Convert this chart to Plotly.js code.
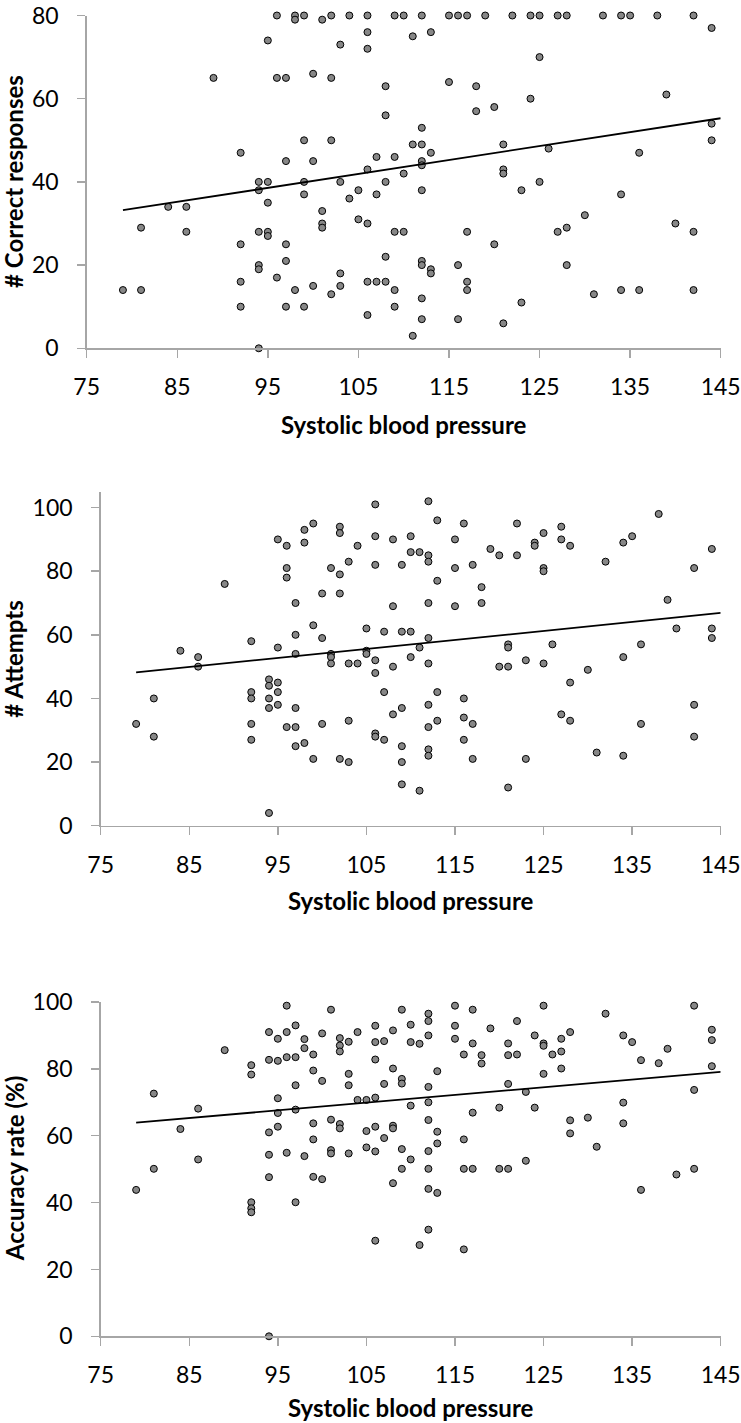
<!DOCTYPE html>
<html>
<head>
<meta charset="utf-8">
<script src="https://cdn.plot.ly/plotly-3.0.1.min.js"></script>
<style>html,body{margin:0;padding:0;background:#fff;}#chart{width:741px;height:1423px;}</style>
</head>
<body>
<div id="chart"></div>
<script>
// ---------- Data ----------
const xTickVals = [75, 85, 95, 105, 115, 125, 135, 145];
const xTitle = "Systolic blood pressure";
const yTitles = ["# Correct responses", "# Attempts", "Accuracy rate (%)"];

// Panel 1: # Correct responses
const bpCorrect = [96,98,98,99,101,102,104,106,106,106,95,103,89,96,97,100,102,99,102,92,97,100,106,94,95,94,99,99,103,95,104,105,84,86,101,105,
81,86,101,101,106,94,95,95,92,97,94,94,97,96,103,92,106,79,81,98,100,103,102,92,97,99,106,94,
109,110,112,115,116,117,119,122,124,125,127,128,132,134,135,138,142,144,111,113,125,108,115,118,118,120,124,139,108,112,144,144,111,112,121,107,109,113,126,136,112,112,110,121,121,108,125,107,112,123,134,130,
109,110,117,120,127,128,140,142,108,112,112,113,113,116,128,107,108,109,117,117,112,109,123,131,134,136,142,112,116,121,111];
const correctResponses = [80,80,79,80,79,80,80,80,76,72,74,73,65,65,65,66,65,50,50,47,45,45,43,40,40,38,40,37,40,35,36,38,34,34,33,31,
29,28,30,29,30,28,28,27,25,25,20,19,21,17,18,16,16,14,14,14,15,15,13,10,10,10,8,0,
80,80,80,80,80,80,80,80,80,80,80,80,80,80,80,80,80,77,75,76,70,63,64,63,57,58,60,61,56,53,54,50,49,49,49,46,46,47,48,47,45,44,42,43,42,40,40,37,38,38,37,32,
28,28,28,25,28,29,30,28,22,21,20,19,18,20,20,16,16,14,16,14,12,10,11,13,14,14,14,7,7,6,3];

// Panel 2: # Attempts
const bpAttempts = [84,86,86,89,92,95,95,96,96,96,97,97,97,98,98,99,99,100,100,101,101,101,101,102,102,102,102,103,103,104,104,105,105,105,
79,81,81,92,92,92,92,94,94,94,94,95,95,95,96,97,97,97,98,99,100,102,103,103,94,
106,106,106,106,106,107,108,108,108,109,109,110,110,110,110,111,111,112,112,112,112,112,112,113,113,115,115,115,116,117,118,118,119,120,120,121,121,121,122,122,123,124,124,125,125,125,125,126,127,127,128,130,132,134,134,135,136,138,139,140,142,144,144,144,
107,109,108,106,106,107,109,109,109,111,112,112,112,112,113,113,116,116,116,117,117,121,123,127,128,128,131,134,136,142,142];
const attempts = [55,53,50,76,58,90,56,88,81,78,70,60,54,93,89,95,63,73,59,81,54,53,51,94,92,79,73,83,51,51,88,62,55,54,
32,40,28,42,40,32,27,46,44,40,37,45,42,38,31,37,31,25,26,21,32,21,33,20,4,
101,91,82,52,48,61,90,69,50,82,61,91,86,61,53,86,56,102,85,83,70,59,51,96,77,90,81,69,95,82,75,70,87,85,50,57,56,50,95,85,52,89,88,92,81,80,51,57,94,90,88,49,83,89,53,91,57,98,71,62,81,87,62,59,
42,37,35,29,28,27,25,20,13,11,38,31,24,22,42,33,40,34,27,32,21,12,21,35,45,33,23,22,32,38,28];

// Panel 3: Accuracy rate (%)
const bpAccuracy = [81,81,84,86,86,89,92,92,94,94,94,94,94,95,95,95,95,95,96,96,96,96,97,97,97,97,98,98,98,99,99,99,99,99,100,100,100,101,101,101,101,102,102,102,102,102,103,103,103,103,104,104,105,105,105,
79,92,92,92,97,94,
106,106,106,106,106,106,107,107,107,108,108,108,108,108,109,109,109,109,109,110,110,110,110,111,112,112,112,112,112,112,112,112,112,112,113,113,113,113,115,115,115,116,116,116,116,117,117,117,117,118,118,119,120,120,121,121,121,121,122,122,123,123,124,124,125,125,125,125,126,127,127,127,128,128,128,130,131,132,134,134,134,135,136,136,138,139,140,142,142,142,144,144,144,106,111];
const accuracyRate = [72.6,50.1,62,68.1,52.9,85.6,81.1,78.3,91,82.7,61,54.3,47.6,89,82.4,71.2,66.8,62.7,98.9,91,83.5,54.9,93,83.5,75.1,67.8,88.9,86.2,53.9,84.3,79.5,63.7,58.9,47.7,90.6,76.4,47,97.7,64.8,55.7,54.7,89.2,87,85.2,63.5,62.2,88.1,78.5,75.1,54.7,91,70.7,70.7,61.4,56.5,
43.8,40.1,38.3,37.1,40.1,0,
92.9,88,82.8,71.4,62.7,55.3,88.3,75.5,59.3,91.5,80.1,63,62.2,45.8,97.7,77,75.6,56,50.1,93.2,88,69,52.9,87.5,96.5,94.3,90,74.6,70,64.7,55.4,50.1,44.1,31.9,79.3,61.2,57.7,42.9,98.9,92.9,89,84.3,58.9,50.1,26,97.7,87.6,66.9,50.1,84.1,81.6,92.1,68.4,50.1,87.6,84.1,75.5,50.1,94.3,84.3,73.1,52.5,90,68.4,98.9,87.6,86.9,78.5,84.3,89,85.2,80.1,91,64.6,60.7,65.4,56.7,96.5,90,69.9,63.7,88,82.6,43.8,81.7,86,48.4,98.9,73.7,50.1,91.7,88.6,80.8,28.6,27.3];

// Linear trend lines (end points)
const trendX = [79, 145];
const trendCorrect = [33.2, 55.3];
const trendAttempts = [48.2, 66.9];
const trendAccuracy = [63.9, 79.1];

// ---------- Build ----------
const W = 741, H = 1423;
const fontFam = "Lato, 'Open Sans', sans-serif";
const marker = {size: 7, color: '#878787', line: {color: '#000', width: 1}};

function pts(x, y, s) {
  return {x: x, y: y, xaxis: 'x' + s, yaxis: 'y' + s, type: 'scatter', mode: 'markers',
          marker: marker, cliponaxis: false, hoverinfo: 'x+y'};
}
function trend(y, s) {
  return {x: trendX, y: y, xaxis: 'x' + s, yaxis: 'y' + s, type: 'scatter', mode: 'lines',
          line: {color: '#000', width: 1.8}, cliponaxis: false, hoverinfo: 'skip'};
}

const data = [
  pts(bpCorrect, correctResponses, ''), trend(trendCorrect, ''),
  pts(bpAttempts, attempts, '2'), trend(trendAttempts, '2'),
  pts(bpAccuracy, accuracyRate, '3'), trend(trendAccuracy, '3')
];

// pixel panel boxes [left, right, top, bottom]
const boxes = [[86.7, 720.7, 15.5, 348.3], [100.7, 720.7, 491.7, 825.7], [100.7, 720.7, 1002, 1336.3]];
const titleOffsets = [76, 75, 71];
const yRanges = [[0, 80], [0, 105], [0, 100]];
const yTicks = [[0, 20, 40, 60, 80], [0, 20, 40, 60, 80, 100], [0, 20, 40, 60, 80, 100]];

const axisCommon = {
  showline: true, linecolor: '#a6a6a6', linewidth: 1.5,
  ticks: 'outside', ticklen: 8, tickwidth: 1.5, tickcolor: '#a6a6a6',
  showgrid: false, zeroline: false, fixedrange: true,
  ticklabeloverflow: 'allow',
  tickfont: {family: fontFam, size: 23, color: '#000'}
};

const layout = {
  width: W, height: H, autosize: false,
  margin: {l: 0, r: 0, t: 0, b: 0},
  paper_bgcolor: '#fff', plot_bgcolor: '#fff',
  showlegend: false, font: {family: fontFam},
  annotations: []
};

boxes.forEach((b, i) => {
  const s = i === 0 ? '' : String(i + 1);
  layout['xaxis' + s] = Object.assign({}, axisCommon, {
    domain: [b[0] / W, b[1] / W], anchor: 'y' + s, range: [75, 145],
    tickmode: 'array', tickvals: xTickVals, ticklabelstandoff: 10
  });
  layout['yaxis' + s] = Object.assign({}, axisCommon, {
    domain: [1 - b[3] / H, 1 - b[2] / H], anchor: 'x' + s, range: yRanges[i],
    tickmode: 'array', tickvals: yTicks[i], ticklabelstandoff: 14
  });
  layout.annotations.push({
    xref: 'paper', yref: 'paper', x: ((b[0] + b[1]) / 2) / W, y: 1 - (b[3] + titleOffsets[i]) / H,
    xanchor: 'center', yanchor: 'middle', showarrow: false, text: xTitle,
    font: {family: fontFam, size: 24, color: '#000', weight: 'bold'}
  });
  layout.annotations.push({
    xref: 'paper', yref: 'paper', x: 14 / W, y: 1 - ((b[2] + b[3]) / 2) / H,
    xanchor: 'center', yanchor: 'middle', showarrow: false, text: yTitles[i], textangle: -90,
    font: {family: fontFam, size: 24, color: '#000', weight: 'bold'}
  });
});

Plotly.newPlot('chart', data, layout, {staticPlot: true, displayModeBar: false});
</script>
</body>
</html>
